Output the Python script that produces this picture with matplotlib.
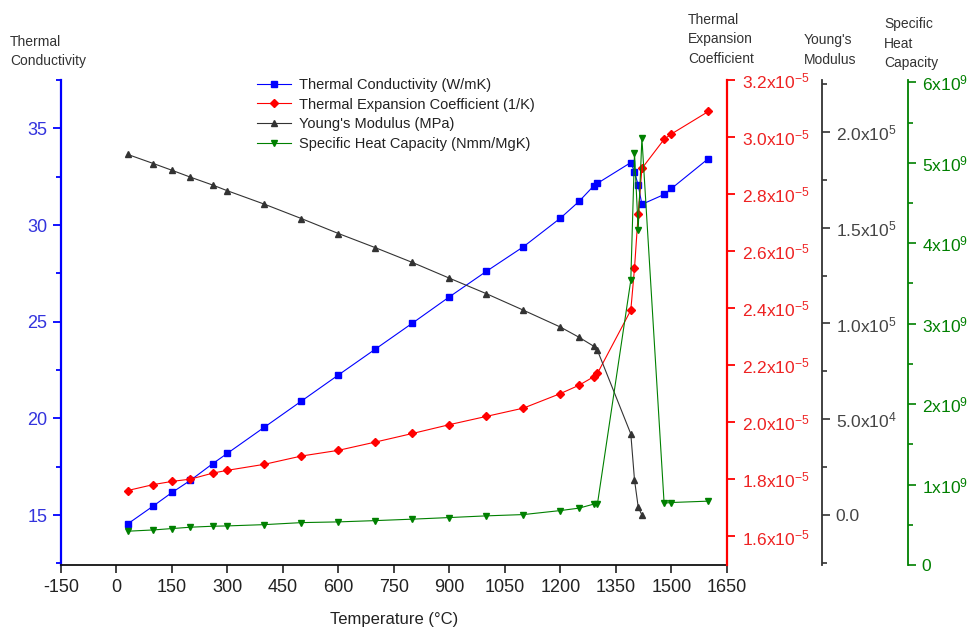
import matplotlib
matplotlib.use("Agg")
import matplotlib.pyplot as plt
from matplotlib.ticker import FixedLocator, FixedFormatter, MultipleLocator

plt.rcParams['font.family'] = ['Liberation Sans', 'DejaVu Sans']
plt.rcParams['mathtext.fontset'] = 'custom'
plt.rcParams['mathtext.rm'] = 'Liberation Sans'
plt.rcParams['mathtext.it'] = 'Liberation Sans:italic'
plt.rcParams['mathtext.bf'] = 'Liberation Sans:bold'
plt.rcParams['axes.unicode_minus'] = False

# Temperature (°C)
temperature = [30, 100, 150, 200, 260, 300, 400, 500, 600, 700, 800, 900, 1000,
               1100, 1200, 1250, 1290, 1300, 1390, 1400, 1410, 1420, 1480, 1500, 1600]

# Thermal conductivity (W/mK)
conductivity = [14.54, 15.48, 16.17, 16.80, 17.66, 18.20, 19.55, 20.90, 22.25, 23.59,
                24.93, 26.29, 27.61, 28.88, 30.36, 31.22, 32.03, 32.16, 33.23, 32.75,
                32.06, 31.07, 31.58, 31.89, 33.44]

# Thermal expansion coefficient (1/K)
expansion = [1.761e-5, 1.782e-5, 1.793e-5, 1.801e-5, 1.822e-5, 1.832e-5, 1.853e-5,
             1.882e-5, 1.902e-5, 1.931e-5, 1.961e-5, 1.992e-5, 2.021e-5, 2.050e-5,
             2.101e-5, 2.130e-5, 2.160e-5, 2.172e-5, 2.393e-5, 2.540e-5, 2.731e-5,
             2.890e-5, 2.992e-5, 3.011e-5, 3.090e-5]

# Young's modulus (MPa), measured up to 1420 °C
temperature_modulus = [30, 100, 150, 200, 260, 300, 400, 500, 600, 700, 800, 900, 1000,
                       1100, 1200, 1250, 1290, 1300, 1390, 1400, 1410, 1420]
modulus = [1.882e5, 1.834e5, 1.799e5, 1.763e5, 1.722e5, 1.692e5, 1.622e5, 1.547e5,
           1.469e5, 1.395e5, 1.318e5, 1.236e5, 1.155e5, 1.069e5, 0.981e5, 0.928e5,
           0.881e5, 0.859e5, 0.424e5, 0.184e5, 0.043e5, 0.0]

# Specific heat capacity (Nmm/MgK)
heat_capacity = [0.420e9, 0.436e9, 0.453e9, 0.470e9, 0.482e9, 0.486e9, 0.502e9, 0.527e9,
                 0.536e9, 0.552e9, 0.570e9, 0.590e9, 0.611e9, 0.627e9, 0.677e9, 0.707e9,
                 0.757e9, 0.764e9, 3.54e9, 5.12e9, 4.17e9, 5.31e9, 0.769e9, 0.777e9,
                 0.794e9]

x_ticks = list(range(-150, 1651, 150))
cond_ticks = [15, 20, 25, 30, 35]
exp_ticks = [1.6e-5, 1.8e-5, 2.0e-5, 2.2e-5, 2.4e-5, 2.6e-5, 2.8e-5, 3.0e-5, 3.2e-5]
exp_labels = [r'$\mathregular{%sx10^{-5}}$' % s for s in
              ['1.6', '1.8', '2.0', '2.2', '2.4', '2.6', '2.8', '3.0', '3.2']]
mod_ticks = [0.0, 5.0e4, 1.0e5, 1.5e5, 2.0e5]
mod_labels = ['0.0', r'$\mathregular{5.0x10^{4}}$', r'$\mathregular{1.0x10^{5}}$',
              r'$\mathregular{1.5x10^{5}}$', r'$\mathregular{2.0x10^{5}}$']
heat_ticks = [0, 1e9, 2e9, 3e9, 4e9, 5e9, 6e9]
heat_labels = ['0'] + [r'$\mathregular{%dx10^{9}}$' % i for i in range(1, 7)]

BLUE = '#0000ff'
RED = '#ff0000'
GRAY = '#333333'
GREEN = '#008000'

W, H = 979, 630
PX = 72 / 100  # points per pixel at 100 dpi
fig = plt.figure(figsize=(W / 100, H / 100), dpi=100)
left, right, bottom, top = 61, 727, 565, 80
ax = fig.add_axes([left / W, 1 - bottom / H, (right - left) / W, (bottom - top) / H])
ax2 = ax.twinx()
ax3 = ax.twinx()
ax4 = ax.twinx()

lw = 0.8
l1, = ax.plot(temperature, conductivity, color=BLUE, lw=lw, marker='s', ms=4.2,
              label='Thermal Conductivity (W/mK)')
l2, = ax2.plot(temperature, expansion, color=RED, lw=lw, marker='D', ms=4.2,
               label='Thermal Expansion Coefficient (1/K)')
l3, = ax3.plot(temperature_modulus, modulus, color=GRAY, lw=lw, marker='^', ms=5.0,
               label="Young's Modulus (MPa)")
l4, = ax4.plot(temperature, heat_capacity, color=GREEN, lw=lw, marker='v', ms=5.0,
               label='Specific Heat Capacity (Nmm/MgK)')

major_len = 8 * PX
minor_len = 5 * PX

# x axis
ax.set_xlim(-150, 1650)
ax.xaxis.set_major_locator(FixedLocator(x_ticks))
ax.tick_params(axis='x', direction='out', length=major_len, width=1.2, labelsize=13,
               colors='#222222', pad=4)
ax.set_xlabel('Temperature (°C)', fontsize=12, color='#222222', labelpad=12)
ax.spines['bottom'].set_linewidth(1.3)
ax.spines['bottom'].set_color('#111111')
ax.spines['top'].set_visible(False)
ax.spines['right'].set_visible(False)

# left axis: conductivity
ax.set_ylim(12.42, 37.5)
ax.yaxis.set_major_locator(FixedLocator(cond_ticks))
ax.yaxis.set_minor_locator(MultipleLocator(2.5))
ax.spines['left'].set_color(BLUE)
ax.spines['left'].set_linewidth(1.6)
ax.tick_params(axis='y', which='major', direction='out', length=major_len, width=1.3,
               color=BLUE, labelcolor='#3333dd', labelsize=13, pad=4)
ax.tick_params(axis='y', which='minor', direction='out', length=minor_len, width=1.3,
               color=BLUE)

# red axis: thermal expansion
ax2.set_ylim(1.5e-5, 3.2e-5)
ax2.yaxis.set_major_locator(FixedLocator(exp_ticks))
ax2.yaxis.set_major_formatter(FixedFormatter(exp_labels))
for s in ['left', 'top', 'bottom']:
    ax2.spines[s].set_visible(False)
ax2.spines['right'].set_color(RED)
ax2.spines['right'].set_linewidth(1.6)
ax2.tick_params(axis='y', direction='out', length=major_len, width=1.3, color=RED,
                labelcolor='#ee2222', labelsize=12.5, pad=5)

# gray axis: Young's modulus
ax3.set_ylim(-2.6e4, 2.27e5)
ax3.yaxis.set_major_locator(FixedLocator(mod_ticks))
ax3.yaxis.set_major_formatter(FixedFormatter(mod_labels))
ax3.yaxis.set_minor_locator(FixedLocator([-2.5e4, 2.5e4, 7.5e4, 1.25e5, 1.75e5, 2.25e5]))
for s in ['left', 'top', 'bottom']:
    ax3.spines[s].set_visible(False)
ax3.spines['right'].set_position(('outward', 95 * PX))
ax3.spines['right'].set_color(GRAY)
ax3.spines['right'].set_linewidth(1.3)
ax3.tick_params(axis='y', which='major', direction='out', length=major_len, width=1.2,
                color=GRAY, labelcolor='#444444', labelsize=12.5, pad=4)
ax3.tick_params(axis='y', which='minor', direction='out', length=minor_len, width=1.2,
                color=GRAY)

# green axis: specific heat capacity
ax4.set_ylim(0, 6.03e9)
ax4.yaxis.set_major_locator(FixedLocator(heat_ticks))
ax4.yaxis.set_major_formatter(FixedFormatter(heat_labels))
ax4.yaxis.set_minor_locator(MultipleLocator(0.5e9))
for s in ['left', 'top', 'bottom']:
    ax4.spines[s].set_visible(False)
ax4.spines['right'].set_position(('outward', 181 * PX))
ax4.spines['right'].set_color(GREEN)
ax4.spines['right'].set_linewidth(1.3)
ax4.tick_params(axis='y', which='major', direction='out', length=major_len, width=1.2,
                color=GREEN, labelcolor=GREEN, labelsize=12.5, pad=4)
ax4.tick_params(axis='y', which='minor', direction='out', length=minor_len, width=1.2,
                color=GREEN)

# axis titles above each y axis
title_kw = dict(fontsize=10, color='#333333', va='top', ha='left', linespacing=1.5)
fig.text(10 / W, 1 - 35 / H, 'Thermal\nConductivity', **title_kw)
fig.text(688 / W, 1 - 13 / H, 'Thermal\nExpansion\nCoefficient', **title_kw)
fig.text(804 / W, 1 - 33 / H, "Young's\nModulus", **title_kw)
fig.text(884 / W, 1 - 17 / H, 'Specific\nHeat\nCapacity', **title_kw)

leg = ax4.legend(handles=[l1, l2, l3, l4], loc='upper left',
                 bbox_to_anchor=(257 / W, 1 - 78 / H), bbox_transform=fig.transFigure,
                 frameon=False, fontsize=10.5, handlelength=2.3, handletextpad=0.55,
                 labelspacing=0.38, borderaxespad=0, borderpad=0)
for t in leg.get_texts():
    t.set_color('#222222')

fig.savefig('out.png', dpi=100)
